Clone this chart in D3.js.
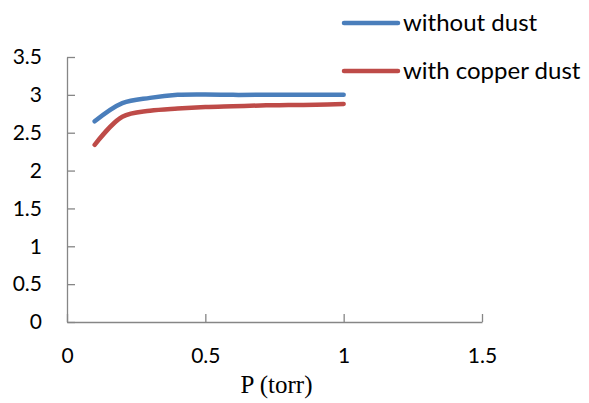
<!DOCTYPE html>
<html><head><meta charset="utf-8">
<script src="https://cdn.jsdelivr.net/npm/d3@7"></script>
<style>body{margin:0;background:#fff}</style>
</head><body>
<svg id="c" width="589" height="403"></svg>
<script>
const pressure = [0.1, 0.2, 0.3, 0.4, 0.5, 0.6, 0.7, 0.8, 0.9, 1.0];
const withoutDust = [2.65, 2.89, 2.96, 3.0, 3.005, 3.0, 3.0, 3.0, 3.0, 3.0];
const withCopperDust = [2.34, 2.71, 2.79, 2.82, 2.84, 2.85, 2.86, 2.865, 2.87, 2.88];
const seriesNames = ["without dust", "with copper dust"];
const seriesColors = ["#4a7ebb", "#be4b48"];
const xTicks = [0, 0.5, 1, 1.5];
const yTicks = [0, 0.5, 1, 1.5, 2, 2.5, 3, 3.5];
const xTitle = "P (torr)";

const svg = d3.select("#c");
const x = d3.scaleLinear().domain([0, 1.5]).range([67, 482]);
const y = d3.scaleLinear().domain([0, 3.5]).range([322, 57]);
const axisColor = "#868686";
const sans = "Lato, 'Open Sans', sans-serif";

const xAxis = svg.append("g").attr("transform", "translate(0,322)")
  .call(d3.axisBottom(x).tickValues(xTicks).tickSizeInner(-8).tickSizeOuter(0).tickFormat(d3.format("")));
const yAxis = svg.append("g").attr("transform", "translate(67,0)")
  .call(d3.axisLeft(y).tickValues(yTicks).tickSizeInner(-8).tickSizeOuter(0).tickFormat(d3.format("")));
[xAxis, yAxis].forEach(g => {
  g.selectAll("path,line").attr("stroke", axisColor).attr("stroke-width", 1.3);
  g.selectAll("text").attr("fill", "#000").style("font-family", sans).style("font-size", "21px");
});
xAxis.selectAll("text").attr("y", 26);
yAxis.selectAll("text").attr("x", -25);

svg.append("text").attr("x", x(0.75) + 2).attr("y", 393).attr("text-anchor", "middle")
  .style("font-family", "'Liberation Serif', 'Times New Roman', serif").style("font-size", "25px")
  .text(xTitle);

const line = d3.line().x(d => x(d[0])).y(d => y(d[1])).curve(d3.curveCatmullRom.alpha(0.5));
[withoutDust, withCopperDust].forEach((vals, i) => {
  svg.append("path").datum(pressure.map((p, j) => [p, vals[j]]))
    .attr("d", line).attr("fill", "none").attr("stroke", seriesColors[i])
    .attr("stroke-width", 4.5).attr("stroke-linecap", "round").attr("stroke-linejoin", "round");
});

const legY = [23, 71];
seriesNames.forEach((n, i) => {
  svg.append("line").attr("x1", 344).attr("x2", 398).attr("y1", legY[i]).attr("y2", legY[i])
    .attr("stroke", seriesColors[i]).attr("stroke-width", 4.5).attr("stroke-linecap", "round");
  svg.append("text").attr("x", 403).attr("y", legY[i] + 8).attr("fill", "#000")
    .style("font-family", sans).style("font-size", "24px").text(n);
});
</script>
</body></html>
